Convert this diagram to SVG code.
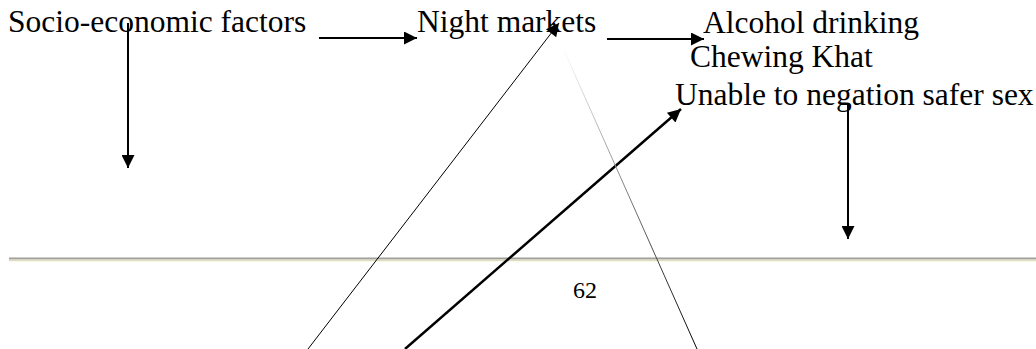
<svg xmlns="http://www.w3.org/2000/svg" width="1036" height="349" viewBox="0 0 1036 349">
<style>
.lbl{font-family:"Liberation Serif","Times New Roman",serif;font-size:31.5px;fill:#000}
.pg{font-family:"Liberation Serif","Times New Roman",serif;font-size:24px;fill:#000}
.c{stroke:#000;fill:none;stroke-width:2}
</style>
<defs>
<marker id="am" viewBox="0 0 10 10" refX="10" refY="5" markerWidth="17" markerHeight="13" markerUnits="userSpaceOnUse" orient="auto">
<path d="M0,0 L10,5 L0,10 Z" fill="#000"/>
</marker>
<linearGradient id="fade" gradientUnits="userSpaceOnUse" x1="563" y1="48" x2="697" y2="349">
<stop offset="0" stop-color="#ffffff"/>
<stop offset="0.5" stop-color="#777"/>
<stop offset="1" stop-color="#000"/>
</linearGradient>
</defs>
<rect width="1036" height="349" fill="#fff"/>
<g id="rule">
<rect x="9" y="257.5" width="1027" height="2" fill="#a09f98"/>
<rect x="9" y="259.5" width="1027" height="1.5" fill="#dedac4"/>
<rect x="9" y="261" width="1027" height="1" fill="#fafae8"/>
</g>
<g id="connectors">
<line class="c" x1="319" y1="38" x2="417" y2="38" marker-end="url(#am)"/>
<line class="c" x1="607" y1="39" x2="704" y2="39" marker-end="url(#am)"/>
<line class="c" x1="128" y1="23" x2="128" y2="168" marker-end="url(#am)"/>
<line class="c" x1="848" y1="104" x2="848" y2="239" marker-end="url(#am)"/>
<line class="c" x1="308" y1="349" x2="559" y2="23" style="stroke-width:1" marker-end="url(#am)"/>
<line class="c" x1="405" y1="349" x2="681" y2="109" style="stroke-width:2.5" marker-end="url(#am)"/>
<line x1="563" y1="48" x2="697" y2="349" stroke="url(#fade)" stroke-width="1"/>
</g>
<g id="socio"><text class="lbl" x="8" y="32">Socio-economic factors</text></g>
<g id="night"><text class="lbl" x="417" y="32">Night markets</text></g>
<g id="alcohol"><text class="lbl" x="703" y="33">Alcohol drinking</text></g>
<g id="khat"><text class="lbl" x="690" y="67">Chewing Khat</text></g>
<g id="unable"><text class="lbl" x="675" y="105">Unable to negation safer sex</text></g>
<g id="page"><text class="pg" x="573" y="298">62</text></g>
</svg>
